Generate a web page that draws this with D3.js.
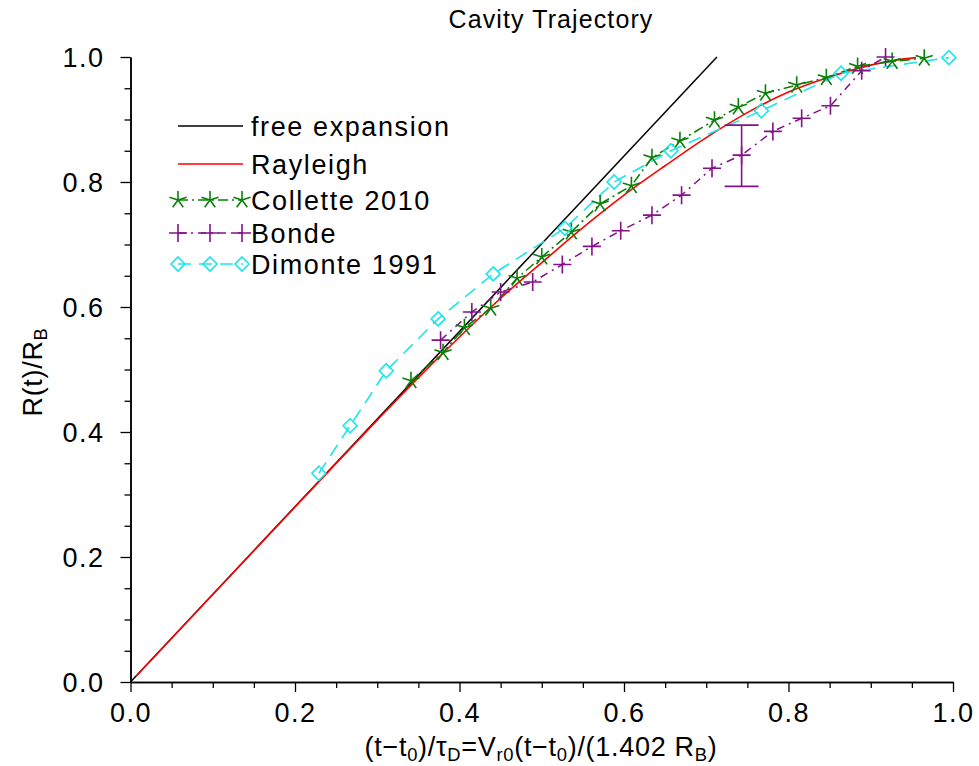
<!DOCTYPE html>
<html><head><meta charset="utf-8">
<script src="https://cdn.jsdelivr.net/npm/d3@7"></script>
<style>
body{margin:0;background:#fff;}
svg text{font-family:"Liberation Sans",Arial,Helvetica,sans-serif;fill:#000;}
</style></head>
<body><svg id="c" width="979" height="766"></svg>
<script>
// ---- data ----
const freeX = [0, 0.713];
const freeY = [0, 1.0];
const rayX = [0.007, 0.10, 0.20, 0.30, 0.35, 0.40, 0.45, 0.50, 0.55, 0.60, 0.65, 0.70, 0.75, 0.80, 0.85, 0.90, 0.93, 0.955];
const rayY = [0.0096, 0.140, 0.280, 0.419, 0.487, 0.552, 0.614, 0.671, 0.727, 0.779, 0.826, 0.871, 0.911, 0.944, 0.968, 0.987, 0.995, 0.999];
const colletteX = [0.341, 0.380, 0.406, 0.438, 0.470, 0.500, 0.536, 0.571, 0.609, 0.634, 0.668, 0.710, 0.739, 0.772, 0.810, 0.846, 0.884, 0.926, 0.965];
const colletteY = [0.482, 0.527, 0.567, 0.598, 0.646, 0.680, 0.720, 0.765, 0.794, 0.839, 0.866, 0.899, 0.920, 0.942, 0.955, 0.967, 0.985, 0.993, 0.998];
const bondeX = [0.377, 0.415, 0.450, 0.489, 0.525, 0.561, 0.596, 0.634, 0.670, 0.707, 0.743, 0.781, 0.816, 0.851, 0.889, 0.918];
const bondeY = [0.547, 0.592, 0.624, 0.640, 0.668, 0.697, 0.722, 0.747, 0.779, 0.822, 0.843, 0.881, 0.902, 0.922, 0.978, 1.0];
const dimonteX = [0.229, 0.267, 0.311, 0.374, 0.441, 0.528, 0.588, 0.657, 0.767, 0.864, 0.995];
const dimonteY = [0.334, 0.410, 0.498, 0.581, 0.653, 0.726, 0.800, 0.850, 0.914, 0.974, 0.999];
const errX = [0.743];
const errLo = [0.793];
const errHi = [0.891];
const xTicks = [0, 0.2, 0.4, 0.6, 0.8, 1.0];
const yTicks = [0, 0.2, 0.4, 0.6, 0.8, 1.0];
const legendLabels = ["free expansion", "Rayleigh", "Collette 2010", "Bonde", "Dimonte 1991"];

// ---- styles ----
const C_GREEN = "#0a800a", C_PURPLE = "#84108a", C_CYAN = "#1ae6ea";
const FONT = 27;

const svg = d3.select("#c");
const x = d3.scaleLinear().domain([0, 1]).range([130.5, 953]);
const y = d3.scaleLinear().domain([0, 1]).range([682, 57]);

// axes
const minor = d3.range(0, 1.0001, 0.05).filter(v => Math.abs(v / 0.2 - Math.round(v / 0.2)) > 1e-6);
const gx = svg.append("g").attr("transform", "translate(0,682)");
gx.call(d3.axisBottom(x).tickValues(xTicks).tickSize(10).tickSizeOuter(0).tickFormat(d3.format(".1f")));
gx.append("g").call(d3.axisBottom(x).tickValues(minor).tickSize(6).tickSizeOuter(0).tickFormat(""));
const gy = svg.append("g").attr("transform", "translate(130.5,0)");
gy.call(d3.axisLeft(y).tickValues(yTicks).tickSize(10).tickSizeOuter(0).tickFormat(d3.format(".1f")));
gy.append("g").call(d3.axisLeft(y).tickValues(minor).tickSize(6).tickSizeOuter(0).tickFormat(""));
svg.selectAll(".domain").attr("stroke", "#000").attr("stroke-width", 1.5);
svg.selectAll(".tick line").attr("stroke", "#000").attr("stroke-width", 1.3);
gx.selectAll(".tick text").attr("font-size", FONT).attr("dy", "0.71em").attr("y", 21).style("letter-spacing", "1.5px");
gy.selectAll(".tick text").attr("font-size", FONT).attr("x", -26).attr("dy", "0.36em").style("letter-spacing", "1.5px");
svg.selectAll(".tick text").attr("font-family", "Liberation Sans, Arial, sans-serif");

// title
svg.append("text").attr("x", 551).attr("y", 28).attr("text-anchor", "middle")
  .attr("font-size", 25).style("letter-spacing", "1.1px").text("Cavity Trajectory");

// rich text with subscripts
function richText(sel, parts, size) {
  parts.forEach(p => {
    const t = sel.append("tspan").text(p[0]);
    if (p[1]) t.attr("font-size", size * 0.68).attr("baseline-shift", "-28%");
  });
}
const xl = svg.append("text").attr("x", 541).attr("y", 756).attr("text-anchor", "middle")
  .attr("font-size", FONT).style("letter-spacing", "0.7px");
richText(xl, [["(t\u2212t"], ["0", 1], [")/\u03C4"], ["D", 1], ["=V"], ["r0", 1], ["(t\u2212t"], ["0", 1], [")/(1.402 R"], ["B", 1], [")"]], FONT);

const yl = svg.append("text").attr("transform", "translate(42,372) rotate(-90)").attr("text-anchor", "middle")
  .attr("font-size", FONT).style("letter-spacing", "0.7px");
richText(yl, [["R(t)/R"], ["B", 1]], FONT);

// lines
const line = d3.line().x(d => x(d[0])).y(d => y(d[1]));
const zip = (a, b) => a.map((v, i) => [v, b[i]]);
const plot = svg.append("g");

plot.append("path").datum(zip(freeX, freeY)).attr("d", line).attr("fill", "none").attr("stroke", "#000").attr("stroke-width", 1.5);
plot.append("path").datum(zip(rayX, rayY)).attr("d", line.curve(d3.curveMonotoneX)).attr("fill", "none").attr("stroke", "#ff0000").attr("stroke-width", 1.6);
line.curve(d3.curveLinear);

const DASH_COL = "10,4,2,4", DASH_BON = "8,5,2,5", DASH_DIM = "13,8";
plot.append("path").datum(zip(colletteX, colletteY)).attr("d", line).attr("fill", "none").attr("stroke", C_GREEN).attr("stroke-width", 1.6).attr("stroke-dasharray", DASH_COL);
plot.append("path").datum(zip(bondeX, bondeY)).attr("d", line).attr("fill", "none").attr("stroke", C_PURPLE).attr("stroke-width", 1.5).attr("stroke-dasharray", DASH_BON);
plot.append("path").datum(zip(dimonteX, dimonteY)).attr("d", line).attr("fill", "none").attr("stroke", C_CYAN).attr("stroke-width", 1.6).attr("stroke-dasharray", DASH_DIM);

// markers
function starPath(r) {
  let s = "";
  for (let k = 0; k < 5; k++) {
    const a = -Math.PI / 2 + k * 2 * Math.PI / 5;
    s += `M0,0L${(r * Math.cos(a)).toFixed(2)},${(r * Math.sin(a)).toFixed(2)}`;
  }
  return s;
}
const STAR = starPath(9);
const PLUS = "M-9,0H9M0,-9V9";
const DIAM = "M0,-7L7,0L0,7L-7,0Z";
function markers(xs, ys, d, color) {
  plot.append("g").selectAll("path").data(zip(xs, ys)).join("path")
    .attr("transform", p => `translate(${x(p[0])},${y(p[1])})`)
    .attr("d", d).attr("fill", "none").attr("stroke", color).attr("stroke-width", 1.6);
}
markers(colletteX, colletteY, STAR, C_GREEN);
markers(bondeX, bondeY, PLUS, C_PURPLE);
markers(dimonteX, dimonteY, DIAM, C_CYAN);

// error bar
const eb = plot.append("g").attr("stroke", C_PURPLE).attr("stroke-width", 1.6);
errX.forEach((ex, i) => {
  eb.append("line").attr("x1", x(ex)).attr("x2", x(ex)).attr("y1", y(errLo[i])).attr("y2", y(errHi[i]));
  eb.append("line").attr("x1", x(ex) - 17).attr("x2", x(ex) + 17).attr("y1", y(errLo[i])).attr("y2", y(errLo[i]));
  eb.append("line").attr("x1", x(ex) - 17).attr("x2", x(ex) + 17).attr("y1", y(errHi[i])).attr("y2", y(errHi[i]));
});

// legend
const legY = [126, 164, 200, 233, 264];
const lg = svg.append("g");
const styles = [
  {c: "#000", dash: null, m: null},
  {c: "#ff0000", dash: null, m: null},
  {c: C_GREEN, dash: DASH_COL, m: STAR},
  {c: C_PURPLE, dash: DASH_BON, m: PLUS},
  {c: C_CYAN, dash: DASH_DIM, m: DIAM}
];
legendLabels.forEach((lab, i) => {
  const st = styles[i];
  const yy = legY[i];
  const ln = lg.append("line").attr("x1", 178).attr("x2", 243).attr("y1", yy).attr("y2", yy)
    .attr("stroke", st.c).attr("stroke-width", 1.6);
  if (st.dash) ln.attr("stroke-dasharray", st.dash);
  if (st.m) {
    [178, 210, 242].forEach(mx => lg.append("path").attr("transform", `translate(${mx},${yy})`)
      .attr("d", st.m).attr("fill", "none").attr("stroke", st.c).attr("stroke-width", 1.6));
  }
  lg.append("text").attr("x", 251).attr("y", yy).attr("dy", "0.36em").attr("font-size", FONT)
    .style("letter-spacing", "1.6px").text(lab);
});
</script></body></html>
